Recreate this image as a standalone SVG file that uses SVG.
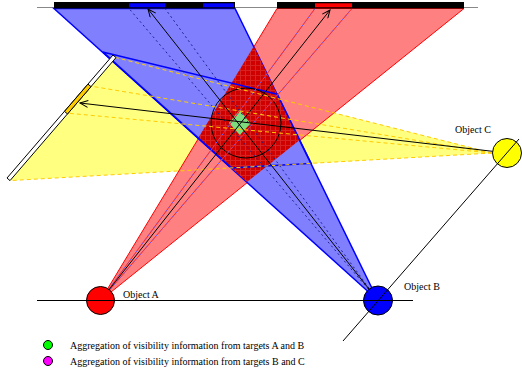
<svg xmlns="http://www.w3.org/2000/svg" width="522" height="376" viewBox="0 0 522 376">
<style>
.lbl{font-family:"Liberation Serif","Times New Roman",serif;font-size:10px;fill:#000}
.edgeY{stroke:#ffcc00;stroke-width:1;stroke-dasharray:4 3;fill:none}
.dashB{stroke:#202090;stroke-width:1;stroke-dasharray:2 3;fill:none}
.dashR{stroke:#ff2020;stroke-width:1;fill:none}
.dashRB{stroke:#6060ff;stroke-width:1;stroke-dasharray:2 3;fill:none}
.arrow{stroke:#000;stroke-width:1;fill:none;marker-end:url(#ah)}
.axis{stroke:#000;stroke-width:1;fill:none}
.obj{stroke:#000;stroke-width:1}
</style>
<defs>
<marker id="ah" markerWidth="10" markerHeight="8" refX="9" refY="4" orient="auto" markerUnits="userSpaceOnUse"><path d="M1,0.5 L9,4 L1,7.5" fill="none" stroke="#000" stroke-width="1"/></marker>
<pattern id="hatch" width="5" height="5" patternUnits="userSpaceOnUse"><rect width="5" height="5" fill="#cf0000"/><path d="M0,0.5H5M0.5,0V5" stroke="#d82222" stroke-width="1"/></pattern>
</defs>
<line x1="37" y1="7.5" x2="478" y2="7.5" stroke="#888" stroke-width="1"/>
<g id="frustum-C"><polygon points="116,57.6 10,180.6 492,153" fill="#ffff80"/></g>
<g id="frustum-A"><polygon points="100.5,300.5 277,8.5 464,8.5" fill="#ff8080" stroke="#ff0000" stroke-width="1"/></g>
<g id="frustum-B"><polygon points="378,300.5 54,8.5 235,8.5" fill="#8080ff" stroke="#0000ff" stroke-width="1.5"/></g>
<g id="overlap-AB"><polygon points="253.8,46.3 299.6,139.9 247.1,182 198.2,138" fill="url(#hatch)"/></g>
<g id="aggregation-AB"><polygon points="229,123 239.6,110 250.5,123.5 239.8,135" fill="#7ddc7d"/></g>
<g id="region-BC"><polygon points="102.7,51.9 277.2,94.2 311.1,163.4 231.4,167.9" fill="none" stroke="#0000ff" stroke-width="1.5"/></g>
<g id="target"><circle cx="246" cy="123" r="35" fill="none" stroke="#000" stroke-width="1"/></g>
<g id="connectors">
<line class="dashB" x1="378" y1="300.5" x2="129" y2="8.5"/>
<line class="dashB" x1="378" y1="300.5" x2="165" y2="8.5"/>
<line class="dashR" x1="100.5" y1="300.5" x2="315" y2="8.5"/>
<line class="dashR" x1="100.5" y1="300.5" x2="352" y2="8.5"/>
<line class="dashRB" x1="100.5" y1="300.5" x2="315" y2="8.5"/>
<line class="dashRB" x1="100.5" y1="300.5" x2="352" y2="8.5"/>
<line class="edgeY" x1="492" y1="153" x2="116" y2="57.6"/>
<line class="edgeY" x1="492" y1="153" x2="10" y2="180.6"/>
<line class="edgeY" x1="492" y1="153" x2="90" y2="86"/>
<line class="edgeY" x1="492" y1="153" x2="66" y2="113"/>
<line class="arrow" x1="100.5" y1="300.5" x2="330" y2="10"/>
<line class="arrow" x1="378" y1="300.5" x2="148" y2="9"/>
<line class="arrow" x1="507" y1="153" x2="80" y2="103"/>
</g>
<g id="image-plane-A">
<rect x="54" y="2" width="181" height="6.5" fill="#000"/>
<rect x="129" y="3.3" width="36" height="4" fill="#0000ff"/>
<rect x="203" y="3.3" width="31" height="4" fill="#0000ff"/>
</g>
<g id="image-plane-B">
<rect x="277" y="2" width="187" height="6.5" fill="#000"/>
<rect x="315" y="3.3" width="37" height="4" fill="#ff0000"/>
</g>
<g id="image-plane-C">
<polygon points="7,178 113,55 116,57.6 10,180.6" fill="#fff" stroke="#000" stroke-width="1"/>
<polygon points="64.5,111.4 88,84.1 91,86.7 67.5,114" fill="#ffcc00" stroke="#000" stroke-width="1"/>
</g>
<g id="object-A"><circle class="obj" cx="100.5" cy="300.5" r="14" fill="#ff0000"/><text class="lbl" x="123" y="298">Object A</text></g>
<g id="object-B"><circle class="obj" cx="378" cy="300.5" r="14.5" fill="#0000ff"/><text class="lbl" x="404" y="289.5">Object B</text></g>
<g id="object-C"><circle class="obj" cx="507" cy="153" r="14.5" fill="#ffff00"/><text class="lbl" x="455" y="133">Object C</text></g>
<line class="axis" x1="37" y1="300.5" x2="413" y2="300.5"/>
<line class="axis" x1="343" y1="341" x2="519" y2="139"/>
<g id="legend">
<circle class="obj" cx="48" cy="345" r="4.5" fill="#00ff00"/>
<text class="lbl" x="70" y="348.5">Aggregation of visibility information from targets A and B</text>
<circle class="obj" cx="48" cy="361" r="4.5" fill="#ff00ff"/>
<text class="lbl" x="70" y="364.5">Aggregation of visibility information from targets B and C</text>
</g>
</svg>
